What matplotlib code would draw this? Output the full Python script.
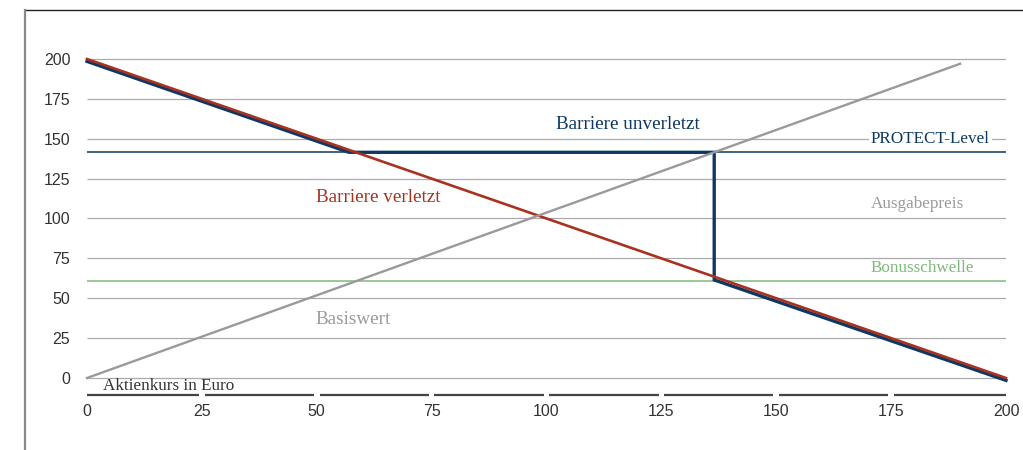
import matplotlib
matplotlib.use("Agg")
import matplotlib.pyplot as plt
from matplotlib.lines import Line2D

# Payoff profile data
kurs = [0, 200]
barriere_verletzt = [200, 0]

basis_x = [0, 190]
basis_y = [0, 197]

unverletzt_x = [0, 57, 136.5, 136.5, 200]
unverletzt_y = [198.5, 141.5, 141.5, 61.5, -1.5]

protect_level = 141.5
ausgabepreis = 100
bonusschwelle = 61

x_ticks = [0, 25, 50, 75, 100, 125, 150, 175, 200]
y_ticks = [0, 25, 50, 75, 100, 125, 150, 175, 200]

RED = "#A8321F"
NAVY = "#0E3863"
GRAY = "#9A9A9A"
GRID = "#ABABAB"
GREEN = "#7FB97B"
DARK = "#444444"

serif = ["Liberation Serif", "DejaVu Serif"]
sans = ["Liberation Sans", "DejaVu Sans"]

fig = plt.figure(figsize=(10.23, 4.5), dpi=100)
W, H = 1023, 450

# axes: x 0..200 -> px 87..1006; y 0 at px 378, 200 at px 59
ppu_y = (378 - 59) / 200
ymin, ymax = -12, 205
ax_bottom_px = 378 + (-ymin) * ppu_y
ax_top_px = 59 - (ymax - 200) * ppu_y
ax = fig.add_axes([87 / W, 1 - ax_bottom_px / H, (1006 - 87) / W, (ax_bottom_px - ax_top_px) / H])
ax.set_xlim(0, 200)
ax.set_ylim(ymin, ymax)
for s in ax.spines.values():
    s.set_visible(False)

# horizontal grid
for yv in y_ticks:
    ax.plot([0, 200], [yv, yv], color=GRID, lw=0.9, zorder=1, solid_capstyle="butt")

# segmented x axis baseline
axis_y = -10.7
for i in range(len(x_ticks) - 1):
    a = x_ticks[i] + (0.6 if i > 0 else 0)
    b = x_ticks[i + 1] - (0.6 if i < len(x_ticks) - 2 else 0)
    ax.plot([a, b], [axis_y, axis_y], color=DARK, lw=1.6, zorder=2,
            solid_capstyle="butt", clip_on=False)

# reference levels
ax.plot(kurs, [protect_level] * 2, color=NAVY, lw=1.1, zorder=2)
ax.plot(kurs, [bonusschwelle] * 2, color=GREEN, lw=1.1, zorder=2)

# payoff lines
ax.plot(unverletzt_x, unverletzt_y, color=NAVY, lw=2.4, zorder=3,
        solid_joinstyle="miter", clip_on=False)
ax.plot(kurs, barriere_verletzt, color=RED, lw=1.9, zorder=4, clip_on=False)
ax.plot(basis_x, basis_y, color=GRAY, lw=1.7, zorder=5, clip_on=False)

# ticks
ax.set_xticks(x_ticks)
ax.set_xticklabels([str(v) for v in x_ticks], fontfamily=sans, fontsize=11.5, color="#333333")
ax.set_yticks(y_ticks)
ax.set_yticklabels([str(v) for v in y_ticks], fontfamily=sans, fontsize=11.5, color="#333333")
ax.tick_params(axis="x", length=0, pad=5)
ax.tick_params(axis="y", length=0, pad=12)

# annotations
ax.text(117.7, 159, "Barriere unverletzt", color=NAVY, fontsize=13.8,
        fontfamily=serif, ha="center", va="center", zorder=6)
ax.text(63.3, 113, "Barriere verletzt", color=RED, fontsize=13.8,
        fontfamily=serif, ha="center", va="center", zorder=6)
ax.text(58, 36.5, "Basiswert", color=GRAY, fontsize=13.8,
        fontfamily=serif, ha="center", va="center", zorder=6)

box = dict(facecolor="white", edgecolor="none", pad=1.5)
ax.text(170.6, 150, "PROTECT-Level", color=NAVY, fontsize=12.3,
        fontfamily=serif, ha="left", va="center", zorder=6, bbox=box)
ax.text(170.6, 109, "Ausgabepreis", color=GRAY, fontsize=12.3,
        fontfamily=serif, ha="left", va="center", zorder=6)
ax.text(170.6, 69, "Bonusschwelle", color=GREEN, fontsize=12.3,
        fontfamily=serif, ha="left", va="center", zorder=6)
ax.text(3.5, -5, "Aktienkurs in Euro", color="#333333", fontsize=12.3,
        fontfamily=serif, ha="left", va="center", zorder=6)

# outer frame (top and left edges)
fig.add_artist(Line2D([25 / W, 1], [1 - 10 / H, 1 - 10 / H], color="#222222", lw=1.0,
                      transform=fig.transFigure))
fig.add_artist(Line2D([25 / W, 25 / W], [0, 1 - 10 / H], color="#8A8A8A", lw=1.6,
                      transform=fig.transFigure))

fig.savefig("out.png", dpi=100, facecolor="white")
